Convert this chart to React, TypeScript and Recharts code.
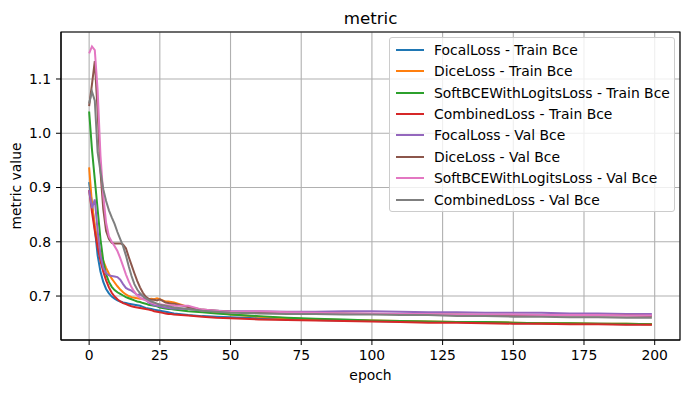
import { LineChart, Line, XAxis, YAxis, CartesianGrid, Legend, ReferenceArea } from 'recharts'

const epochs = [
  0, 1, 2, 3, 4, 5, 6, 7, 8, 9, 10, 11, 12, 13, 14, 15, 16, 17, 18, 19, 20, 21, 22, 23, 24, 25, 26, 27, 28, 29, 30,
  35, 40, 45, 50, 60, 70, 80, 90, 100, 110, 120, 130, 140, 150, 160, 170, 180, 190, 199,
]

const focalTrain = [
  0.910, 0.870, 0.825, 0.775, 0.745, 0.726, 0.713, 0.705, 0.699, 0.695, 0.692, 0.690, 0.688, 0.687, 0.686, 0.685, 0.684, 0.683, 0.682, 0.680, 0.678, 0.677, 0.676, 0.675, 0.674, 0.673, 0.672, 0.671, 0.670, 0.669, 0.668,
  0.665, 0.663, 0.662, 0.661, 0.659, 0.657, 0.656, 0.655, 0.654, 0.653, 0.652, 0.652, 0.651, 0.650, 0.650, 0.649, 0.649, 0.648, 0.648,
]
const diceTrain = [
  0.937, 0.870, 0.830, 0.800, 0.780, 0.765, 0.752, 0.741, 0.732, 0.725, 0.718, 0.712, 0.707, 0.703, 0.700, 0.698, 0.697, 0.696, 0.695, 0.695, 0.695, 0.694, 0.695, 0.694, 0.696, 0.694, 0.692, 0.690, 0.690, 0.689, 0.688,
  0.680, 0.674, 0.670, 0.666, 0.662, 0.659, 0.657, 0.656, 0.655, 0.654, 0.653, 0.652, 0.652, 0.651, 0.650, 0.650, 0.649, 0.649, 0.648,
]
const softTrain = [
  1.040, 0.970, 0.915, 0.860, 0.805, 0.765, 0.740, 0.726, 0.717, 0.711, 0.707, 0.704, 0.701, 0.698, 0.696, 0.694, 0.692, 0.690, 0.689, 0.687, 0.686, 0.684, 0.683, 0.682, 0.681, 0.679, 0.678, 0.677, 0.676, 0.676, 0.675,
  0.672, 0.670, 0.668, 0.666, 0.663, 0.660, 0.658, 0.657, 0.655, 0.654, 0.653, 0.652, 0.652, 0.651, 0.650, 0.650, 0.649, 0.649, 0.648,
]
const combinedTrain = [
  0.895, 0.855, 0.820, 0.790, 0.765, 0.745, 0.729, 0.716, 0.706, 0.699, 0.694, 0.690, 0.687, 0.685, 0.683, 0.681, 0.680, 0.679, 0.678, 0.677, 0.676, 0.675, 0.674, 0.672, 0.671, 0.670, 0.669, 0.668, 0.667, 0.667, 0.666,
  0.664, 0.662, 0.660, 0.659, 0.657, 0.656, 0.655, 0.654, 0.653, 0.652, 0.651, 0.651, 0.650, 0.649, 0.649, 0.648, 0.648, 0.647, 0.647,
]
const focalVal = [
  0.895, 0.862, 0.878, 0.820, 0.775, 0.752, 0.742, 0.738, 0.737, 0.736, 0.735, 0.730, 0.722, 0.715, 0.712, 0.710, 0.706, 0.702, 0.703, 0.700, 0.693, 0.688, 0.685, 0.683, 0.682, 0.681, 0.680, 0.679, 0.678, 0.677, 0.677,
  0.676, 0.674, 0.673, 0.672, 0.672, 0.671, 0.671, 0.672, 0.672, 0.671, 0.670, 0.670, 0.669, 0.669, 0.669, 0.668, 0.668, 0.667, 0.667,
]
const diceVal = [
  1.050, 1.090, 1.133, 1.040, 0.930, 0.860, 0.820, 0.805, 0.798, 0.797, 0.797, 0.797, 0.795, 0.788, 0.772, 0.757, 0.742, 0.728, 0.716, 0.706, 0.699, 0.695, 0.693, 0.693, 0.692, 0.694, 0.691, 0.688, 0.687, 0.686, 0.686,
  0.680, 0.675, 0.673, 0.671, 0.670, 0.669, 0.668, 0.668, 0.667, 0.667, 0.666, 0.666, 0.665, 0.665, 0.665, 0.664, 0.664, 0.664, 0.663,
]
const softVal = [
  1.147, 1.160, 1.153, 1.080, 0.960, 0.885, 0.835, 0.810, 0.800, 0.792, 0.783, 0.770, 0.755, 0.740, 0.727, 0.716, 0.708, 0.701, 0.697, 0.694, 0.692, 0.690, 0.688, 0.686, 0.685, 0.685, 0.684, 0.683, 0.683, 0.683, 0.682,
  0.682, 0.675, 0.673, 0.671, 0.672, 0.670, 0.669, 0.668, 0.668, 0.667, 0.667, 0.666, 0.666, 0.666, 0.665, 0.665, 0.665, 0.664, 0.664,
]
const combinedVal = [
  1.055, 1.077, 1.060, 0.965, 0.930, 0.897, 0.875, 0.858, 0.845, 0.833, 0.818, 0.805, 0.792, 0.775, 0.755, 0.737, 0.722, 0.712, 0.705, 0.700, 0.696, 0.693, 0.690, 0.688, 0.686, 0.684, 0.683, 0.682, 0.681, 0.680, 0.679,
  0.676, 0.673, 0.671, 0.669, 0.668, 0.667, 0.667, 0.666, 0.666, 0.665, 0.665, 0.663, 0.663, 0.662, 0.662, 0.661, 0.661, 0.660, 0.660,
]

const seriesNames = [
  'FocalLoss - Train Bce',
  'DiceLoss - Train Bce',
  'SoftBCEWithLogitsLoss - Train Bce',
  'CombinedLoss - Train Bce',
  'FocalLoss - Val Bce',
  'DiceLoss - Val Bce',
  'SoftBCEWithLogitsLoss - Val Bce',
  'CombinedLoss - Val Bce',
]
const seriesValues = [focalTrain, diceTrain, softTrain, combinedTrain, focalVal, diceVal, softVal, combinedVal]
const seriesColors = ['#1f77b4', '#ff7f0e', '#2ca02c', '#d62728', '#9467bd', '#8c564b', '#e377c2', '#7f7f7f']

const xTicks = [0, 25, 50, 75, 100, 125, 150, 175, 200]
const yTicks = [0.7, 0.8, 0.9, 1.0, 1.1]
const xDomain: [number, number] = [-9.95, 208.95]
const yDomain: [number, number] = [0.619, 1.1866]

const data = epochs.map((epoch, i) => {
  const row: Record<string, number> = { epoch }
  seriesValues.forEach((vals, s) => {
    row[`s${s}`] = vals[i]
  })
  return row
})

const font = 'DejaVu Sans, sans-serif'
const tickStyle = { fontSize: 13.9, fill: '#000', fontFamily: font }

function LegendBox() {
  return (
    <div
      style={{
        width: 286,
        boxSizing: 'border-box',
        border: '1px solid #cccccc',
        borderRadius: 3,
        background: 'rgba(255,255,255,0.8)',
        padding: '1px 0',
        fontFamily: font,
      }}
    >
      {seriesNames.map((name, i) => (
        <div key={name} style={{ display: 'flex', alignItems: 'center', height: 21.43 }}>
          <svg width={28} height={4} style={{ marginLeft: 6, marginRight: 10, flex: 'none' }}>
            <line x1={0} y1={2} x2={28} y2={2} stroke={seriesColors[i]} strokeWidth={2} />
          </svg>
          <span style={{ fontSize: 13.9, color: '#000', whiteSpace: 'nowrap' }}>{name}</span>
        </div>
      ))}
    </div>
  )
}

export default function App() {
  return (
    <div style={{ position: 'absolute', left: 0, top: 0, width: 691, height: 393, background: '#fff' }}>
      <LineChart
        width={691}
        height={393}
        data={data}
        margin={{ top: 32, right: 11, bottom: 23, left: 11 }}
        style={{ fontFamily: font }}
      >
        <CartesianGrid stroke="#b0b0b0" strokeWidth={1.1} />
        <XAxis
          dataKey="epoch"
          type="number"
          domain={xDomain}
          ticks={xTicks}
          allowDataOverflow
          height={30}
          tick={tickStyle}
          tickSize={5}
          tickMargin={5}
          stroke="#000"
          label={{ value: 'epoch', position: 'bottom', offset: 0, fill: '#000', fontSize: 13.9 }}
        />
        <YAxis
          type="number"
          domain={yDomain}
          ticks={yTicks}
          allowDataOverflow
          width={50}
          tick={tickStyle}
          tickSize={5}
          tickMargin={5}
          tickFormatter={(v: number) => v.toFixed(1)}
          stroke="#000"
          label={{
            value: 'metric value',
            angle: -90,
            position: 'insideLeft',
            offset: 5,
            fill: '#000',
            fontSize: 13.9,
            style: { textAnchor: 'middle' },
          }}
        />
        {/* axes frame + title */}
        <ReferenceArea
          x1={xDomain[0]}
          x2={xDomain[1]}
          y1={yDomain[0]}
          y2={yDomain[1]}
          fill="none"
          fillOpacity={0}
          stroke="#000"
          strokeWidth={1.1}
          ifOverflow="visible"
          label={{ value: 'metric', position: 'top', offset: 8, fill: '#000', fontSize: 16.7 }}
        />
        <Legend
          layout="vertical"
          align="center"
          verticalAlign="middle"
          wrapperStyle={{ left: 389, top: 37, width: 286 }}
          content={() => <LegendBox />}
        />
        {seriesNames.map((name, s) => (
          <Line
            key={name}
            name={name}
            dataKey={`s${s}`}
            type="linear"
            stroke={seriesColors[s]}
            strokeWidth={2}
            dot={false}
            activeDot={false}
            isAnimationActive={false}
          />
        ))}
      </LineChart>
    </div>
  )
}
